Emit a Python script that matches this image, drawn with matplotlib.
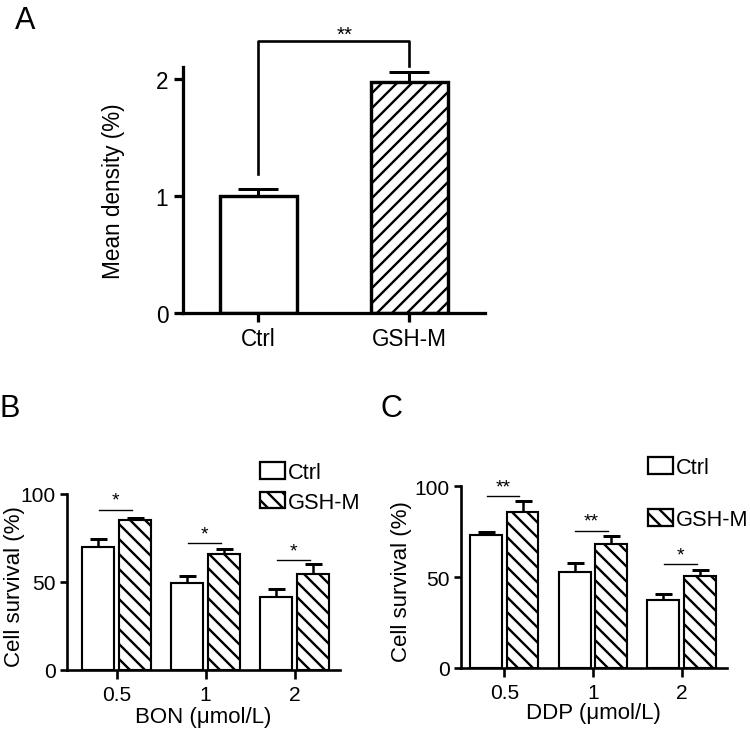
import numpy as np
import matplotlib

matplotlib.use("Agg")
import matplotlib.pyplot as plt
from matplotlib.patches import Patch

plt.rcParams["font.family"] = ["Liberation Sans", "DejaVu Sans"]
plt.rcParams["hatch.linewidth"] = 1.9

# panel A
a_groups = ["Ctrl", "GSH-M"]
a_mean = [1.0, 1.97]
a_err = [0.055, 0.09]

# panels B and C
doses = ["0.5", "1", "2"]
bon_ctrl = [70, 49.5, 41.5]
bon_ctrl_err = [4.5, 3.8, 4.3]
bon_gsh = [85, 66, 54.5]
bon_gsh_err = [1.5, 3.0, 5.8]
bon_sig = ["*", "*", "*"]
bon_sig_y = [91, 72, 62.5]

ddp_ctrl = [73, 53, 37.5]
ddp_ctrl_err = [2.0, 5.0, 3.0]
ddp_gsh = [86, 68, 50.5]
ddp_gsh_err = [6.0, 4.5, 3.5]
ddp_sig = ["**", "**", "*"]
ddp_sig_y = [94.5, 75.6, 57]

DPI = 90
W, H = 750, 738
fig = plt.figure(figsize=(W / DPI, H / DPI), dpi=DPI)


def px_axes(left, top, right, bottom):
    return fig.add_axes([left / W, 1 - bottom / H, (right - left) / W, (bottom - top) / H])


def style_axes(ax, lw, ticklen, fs, pad):
    for side in ("top", "right"):
        ax.spines[side].set_visible(False)
    for side in ("left", "bottom"):
        ax.spines[side].set_linewidth(lw)
    ax.tick_params(direction="out", length=ticklen, width=lw, labelsize=fs, pad=pad)


# ---- A ----
axA = px_axes(182.7, 68, 485, 314)
xa = np.arange(len(a_groups))
axA.bar(xa, a_mean, width=0.51, color="white", edgecolor="black", linewidth=2.7,
        hatch=["", "//"], zorder=2)
axA.errorbar(xa, a_mean, yerr=[np.zeros(len(a_mean)), a_err], fmt="none", ecolor="black",
             elinewidth=2.4, capsize=16, capthick=2.4, zorder=1)
axA.set_xlim(-0.5, 1.5)
axA.set_ylim(0, 2.1)
axA.set_yticks([0, 1, 2])
axA.set_xticks(xa)
axA.set_xticklabels(a_groups)
style_axes(axA, 2.6, 7, 18, 4.5)
axA.set_ylabel("Mean density (%)", fontsize=18)
axA.yaxis.set_label_coords(-0.19, 0.5)
axA.plot([0, 0, 1, 1], [1.19, 2.32, 2.32, 2.11], color="black", lw=2.1, clip_on=False)
axA.text(0.57, 2.295, "**", ha="center", va="bottom", fontsize=16.5)
fig.text(15 / W, 1 - 29 / H, "A", fontsize=24.5, va="baseline")


def survival_panel(ax, ctrl, ctrl_err, gsh, gsh_err, sig, sig_y, xlabel, xlim):
    x = np.arange(len(doses))
    off, bw = 0.205, 0.36
    ax.bar(x - off, ctrl, width=bw, color="white", edgecolor="black", linewidth=1.7, zorder=2)
    ax.bar(x + off, gsh, width=bw, color="white", edgecolor="black", linewidth=1.7,
           hatch="\\\\", zorder=2)
    for xs, m, e in ((x - off, ctrl, ctrl_err), (x + off, gsh, gsh_err)):
        ax.errorbar(xs, m, yerr=[np.zeros(len(m)), e], fmt="none", ecolor="black",
                    elinewidth=2.0, capsize=6.8, capthick=2.4, zorder=1)
    for i, (s, y) in enumerate(zip(sig, sig_y)):
        ax.plot([i - 0.2, i + 0.17], [y, y], color="black", lw=1.1)
        ax.text(i - 0.015, y + 0.5, s, ha="center", va="bottom", fontsize=15.5)
    ax.set_xlim(*xlim)
    ax.set_ylim(0, 100)
    ax.set_yticks([0, 50, 100])
    ax.set_xticks(x)
    ax.set_xticklabels(doses)
    style_axes(ax, 2.1, 6, 16.8, 3)
    ax.tick_params(axis="x", length=7, pad=5)
    ax.set_ylabel("Cell survival (%)", fontsize=17.8)
    ax.set_xlabel(xlabel, fontsize=17.8, va="top")


def survival_legend(ax, left, top, spacing):
    handles = [Patch(facecolor="white", edgecolor="black", linewidth=1.8),
               Patch(facecolor="white", edgecolor="black", linewidth=1.8, hatch="\\\\")]
    ax.legend(handles, ["Ctrl", "GSH-M"], loc="upper left", frameon=False,
              bbox_to_anchor=(left / W, 1 - top / H), bbox_transform=fig.transFigure,
              borderpad=0, borderaxespad=0, handlelength=1.15, handleheight=0.8,
              handletextpad=0.15, labelspacing=spacing, fontsize=17.4)


# ---- B ----
axB = px_axes(66.7, 495, 340, 671)
survival_panel(axB, bon_ctrl, bon_ctrl_err, bon_gsh, bon_gsh_err, bon_sig, bon_sig_y,
               "BON (\u03bcmol/L)", (-0.56, 2.51))
axB.yaxis.set_label_coords(-0.153, 0.48)
axB.xaxis.set_label_coords(0.5, -0.205)
survival_legend(axB, 260, 463, 0.4)
fig.text(0, 1 - 417 / H, "B", fontsize=24.5, va="baseline")

# ---- C ----
axC = px_axes(461, 487.3, 726.7, 669)
survival_panel(axC, ddp_ctrl, ddp_ctrl_err, ddp_gsh, ddp_gsh_err, ddp_sig, ddp_sig_y,
               "DDP (\u03bcmol/L)", (-0.49, 2.51))
axC.yaxis.set_label_coords(-0.184, 0.48)
axC.xaxis.set_label_coords(0.5, -0.187)
survival_legend(axC, 648, 458, 1.42)
fig.text(380 / W, 1 - 417 / H, "C", fontsize=24.5, va="baseline")

fig.savefig("out.png", dpi=DPI)
